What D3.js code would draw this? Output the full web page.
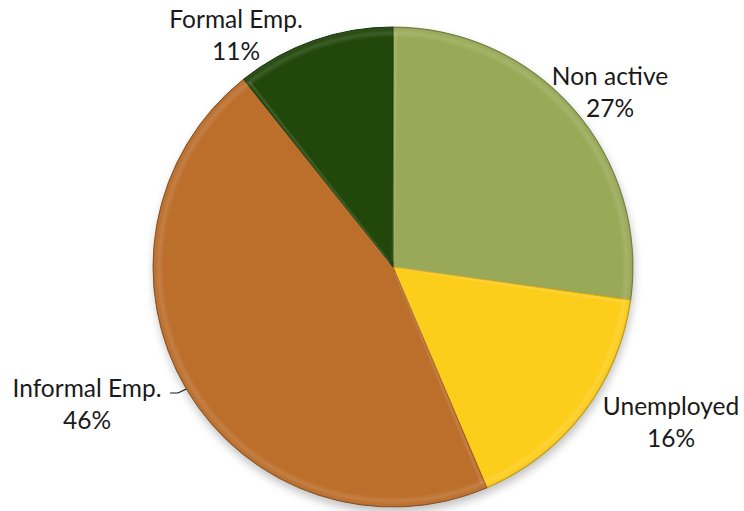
<!DOCTYPE html>
<html>
<head>
<meta charset="utf-8">
<script src="https://cdn.jsdelivr.net/npm/d3@7"></script>
<style>
  html, body { margin: 0; padding: 0; background: #fff; }
  text { font-family: Lato, "Open Sans", sans-serif; fill: #1a1a1a; }
</style>
</head>
<body>
<div id="chart"></div>
<script>
// slices, clockwise from 12 o'clock
const categories = ["Non active", "Unemployed", "Informal Emp.", "Formal Emp."];
const shares = [27.2, 16.4, 45.7, 10.7];
const colors = ["#9aa957", "#fdcd1b", "#bc6e2b", "#22470b"];

const width = 744, height = 511;
const cx = 393, cy = 267, radius = 240;

// where each label sits (centre of the first line), Excel "best fit" style
const labelSpots = {
  "Non active": [610, 85],
  "Unemployed": [671, 415],
  "Informal Emp.": [87, 397],
  "Formal Emp.": [236, 28]
};

const svg = d3.select("#chart").append("svg")
  .attr("width", width)
  .attr("height", height);

svg.append("rect").attr("width", width).attr("height", height).attr("fill", "#fff");

const defs = svg.append("defs");

const shadow = defs.append("filter").attr("id", "shadow")
  .attr("x", "-20%").attr("y", "-20%").attr("width", "140%").attr("height", "140%");
shadow.append("feGaussianBlur").attr("stdDeviation", 5);

const rim = defs.append("radialGradient").attr("id", "rim")
  .attr("gradientUnits", "userSpaceOnUse")
  .attr("cx", 0).attr("cy", 0).attr("r", radius);
rim.append("stop").attr("offset", 0.955).attr("stop-color", "#fff").attr("stop-opacity", 0);
rim.append("stop").attr("offset", 0.975).attr("stop-color", "#fff").attr("stop-opacity", 0.12);
rim.append("stop").attr("offset", 0.99).attr("stop-color", "#fff").attr("stop-opacity", 0.02);
rim.append("stop").attr("offset", 1).attr("stop-color", "#000").attr("stop-opacity", 0.25);

const g = svg.append("g").attr("transform", `translate(${cx},${cy})`);

const pie = d3.pie().sort(null).value(d => d.value);
const arcs = pie(categories.map((c, i) => ({ name: c, value: shares[i], color: colors[i] })));

const arc = d3.arc().innerRadius(0).outerRadius(radius);

// soft drop shadow under the pie
g.append("circle")
  .attr("cx", 1).attr("cy", 5)
  .attr("r", radius)
  .attr("fill", "#000")
  .attr("opacity", 0.25)
  .attr("filter", "url(#shadow)");

g.selectAll("path.slice")
  .data(arcs)
  .enter().append("path")
  .attr("class", "slice")
  .attr("d", arc)
  .attr("fill", d => d.data.color)
  .attr("stroke", d => d3.color(d.data.color).darker(0.5))
  .attr("stroke-width", 1)
  .attr("stroke-linejoin", "round");

// bevel highlight along the outer edge
g.append("circle")
  .attr("r", radius)
  .attr("fill", "url(#rim)")
  .attr("pointer-events", "none");

// faint light line just inside each radial edge
g.selectAll("path.edge")
  .data(arcs)
  .enter().append("path")
  .attr("class", "edge")
  .attr("d", d => {
    const a = d.startAngle + 0.012;
    return `M${Math.sin(a) * 6},${-Math.cos(a) * 6}L${Math.sin(a) * (radius - 6)},${-Math.cos(a) * (radius - 6)}`;
  })
  .attr("stroke", "#fff")
  .attr("stroke-opacity", 0.1)
  .attr("stroke-width", 3);

const fmt = d3.format(".0%");
const labels = svg.selectAll("g.label")
  .data(arcs)
  .enter().append("g")
  .attr("class", "label")
  .attr("transform", d => `translate(${labelSpots[d.data.name][0]},${labelSpots[d.data.name][1]})`);

labels.append("text")
  .attr("text-anchor", "middle")
  .style("font-size", "24.5px")
  .text(d => d.data.name);

labels.append("text")
  .attr("text-anchor", "middle")
  .attr("y", 32)
  .style("font-size", "24.5px")
  .text(d => fmt(d.data.value / 100));

// leader line for the Informal Emp. label
const edgeY = 389 - cy;
const edgeX = -Math.sqrt(radius * radius - edgeY * edgeY);
svg.append("path")
  .attr("d", `M170,393L178,393L${cx + edgeX},${cy + edgeY}`)
  .attr("fill", "none")
  .attr("stroke", "#1a1a1a")
  .attr("stroke-width", 1.2);
</script>
</body>
</html>
